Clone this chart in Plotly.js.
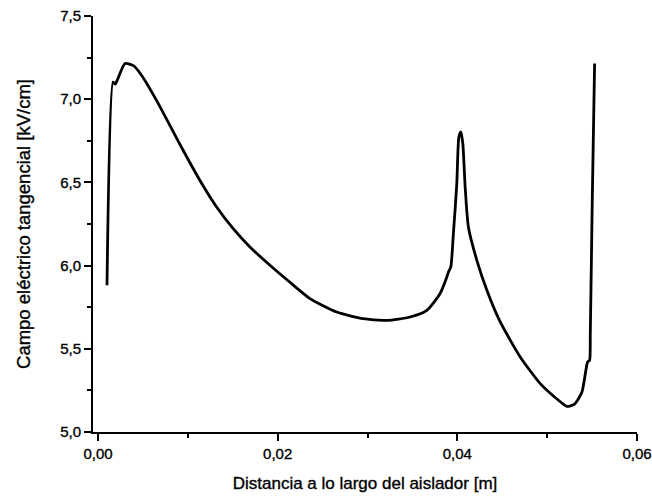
<!DOCTYPE html>
<html>
<head>
<meta charset="utf-8">
<script src="https://cdn.plot.ly/plotly-3.0.1.min.js"></script>
<style>
html,body{margin:0;padding:0;background:#fff;}
#chart{width:652px;height:496px;}
#chart text{stroke:#000;stroke-width:0.35px;}
</style>
</head>
<body>
<div id="chart"></div>
<script>
// Distance along the insulator [m]
const distance = [
  0.00100, 0.00167, 0.00192, 0.00214, 0.00301, 0.00398, 0.00484, 0.00651,
  0.00947, 0.01133, 0.01320, 0.01505, 0.01691, 0.01914, 0.02136, 0.02359,
  0.02657, 0.02953, 0.03214, 0.03474, 0.03660, 0.03808, 0.03883, 0.03901, 0.03927,
  0.03956, 0.03994, 0.04017, 0.04039, 0.04061, 0.04087, 0.04123, 0.04217,
  0.04329, 0.04469, 0.04700, 0.04923, 0.05126, 0.05220, 0.05301, 0.05387, 0.05450,
  0.05472, 0.05480, 0.05502, 0.05528
];
// Tangential electric field [kV/cm]
const field = [
  5.882, 7.103, 7.090, 7.114, 7.214, 7.200, 7.144, 6.993,
  6.693, 6.513, 6.352, 6.222, 6.112, 6.002, 5.900, 5.802,
  5.721, 5.681, 5.671, 5.691, 5.731, 5.832, 5.931, 5.962, 5.992,
  6.192, 6.493, 6.773, 6.803, 6.733, 6.472, 6.232, 6.032,
  5.852, 5.671, 5.451, 5.291, 5.191, 5.154, 5.166, 5.240, 5.421,
  5.431, 5.591, 6.392, 7.214
];
const xTitle = "Distancia a lo largo del aislador [m]";
const yTitle = "Campo eléctrico tangencial [kV/cm]";

const FONT = "Arial, 'Liberation Sans', sans-serif";

const trace = {
  x: distance, y: field, type: "scatter", mode: "lines",
  line: {color: "#000", width: 2.8, shape: "spline", smoothing: 0.6},
  hoverinfo: "skip"
};

const layout = {
  width: 652, height: 496,
  margin: {l: 93, r: 15, t: 16, b: 64, pad: 0},
  paper_bgcolor: "#fff", plot_bgcolor: "#fff",
  separators: ",.",
  showlegend: false,
  font: {family: FONT, color: "#000"},
  xaxis: {
    range: [-0.00056, 0.06], tickvals: [0, 0.02, 0.04, 0.06], tickformat: ".2f",
    ticks: "outside", ticklen: 7, tickwidth: 2, tickcolor: "#000",
    showline: true, linewidth: 2, linecolor: "#000", mirror: false,
    showgrid: false, zeroline: false,
    tickfont: {family: FONT, size: 15, color: "#000"},
    minor: {tickvals: [0.01, 0.03, 0.05], ticks: "outside", ticklen: 4, tickwidth: 2, tickcolor: "#000", showgrid: false},
    title: {text: xTitle, font: {family: FONT, size: 17, color: "#000"}, standoff: 16}
  },
  yaxis: {
    range: [5, 7.5], tickvals: [5, 5.5, 6, 6.5, 7, 7.5], tickformat: ".1f",
    ticks: "outside", ticklen: 7, tickwidth: 2, tickcolor: "#000",
    showline: true, linewidth: 2, linecolor: "#000", mirror: false,
    showgrid: false, zeroline: false,
    tickfont: {family: FONT, size: 15, color: "#000"},
    minor: {tickvals: [5.25, 5.75, 6.25, 6.75, 7.25], ticks: "outside", ticklen: 4, tickwidth: 2, tickcolor: "#000", showgrid: false},
    title: {text: yTitle, font: {family: FONT, size: 18.5, color: "#000"}, standoff: 25}
  }
};

Plotly.newPlot("chart", [trace], layout, {displayModeBar: false, staticPlot: true});
</script>
</body>
</html>
